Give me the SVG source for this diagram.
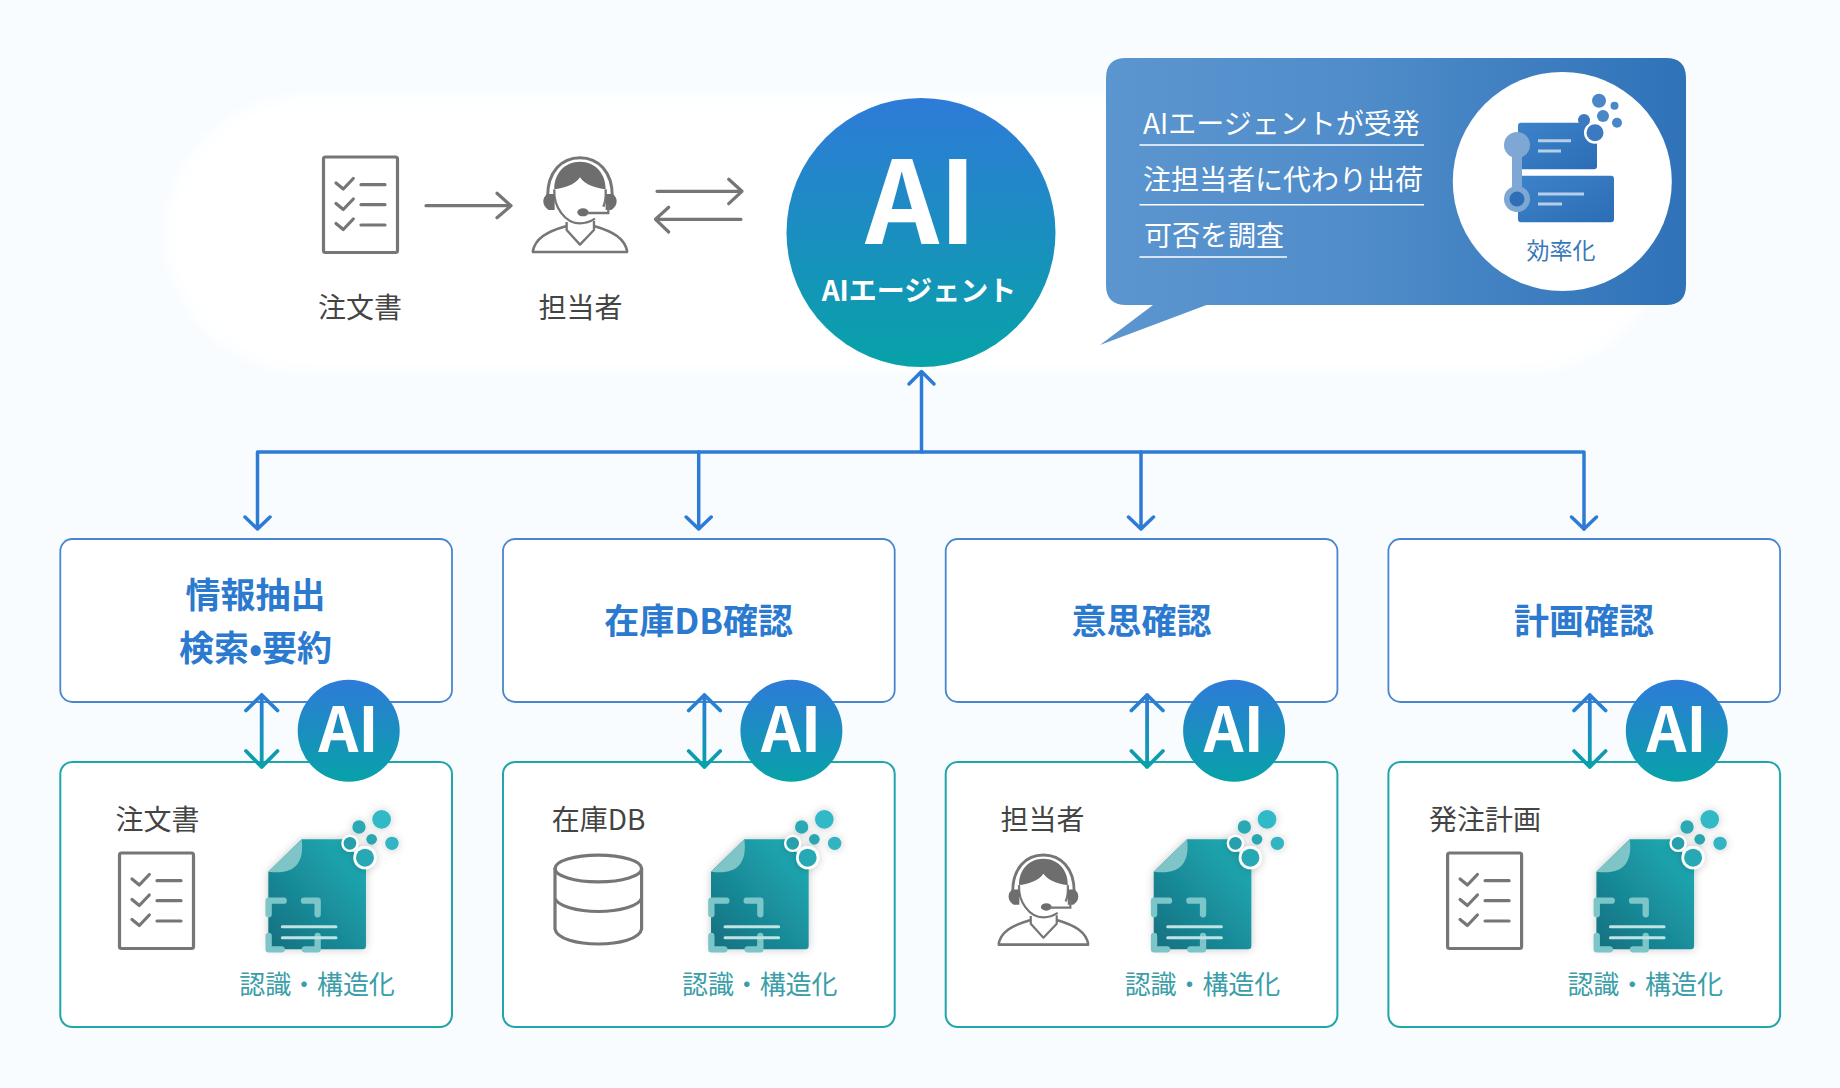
<svg xmlns="http://www.w3.org/2000/svg" width="1840" height="1088" viewBox="0 0 1840 1088">
<style>
text{font-family:"Noto Sans CJK JP","Noto Sans",sans-serif}
.box1{fill:#fff;stroke:#4a86cf;stroke-width:1.8}
.box2{fill:#fff;stroke:#1fa5ac;stroke-width:2}
.title{font-size:35px;font-weight:700;fill:#2b7ad0;text-anchor:middle}
.lbl{font-size:28px;fill:#444;text-anchor:middle}
.rec{font-size:26px;fill:#3b9ea8;text-anchor:middle;letter-spacing:-.1px}
.ai{font-size:62px;font-weight:700;fill:#fff;text-anchor:middle}
.gray{fill:none;stroke:#767676;stroke-width:3.2;stroke-linecap:round;stroke-linejoin:round}
.wire{fill:none;stroke:#2e7bd6;stroke-width:3.5;stroke-linecap:round;stroke-linejoin:round}
.dbl{fill:none;stroke-width:3.8;stroke-linecap:round;stroke-linejoin:round}
.bub{font-size:28px;fill:#fff}
.ul{stroke:#fff;stroke-width:1.6}
</style>
<defs>
<linearGradient id="aiGrad" x1="0" y1="0" x2="0" y2="1"><stop offset="0" stop-color="#2e7bd8"/><stop offset="1" stop-color="#07a2a8"/></linearGradient>
<linearGradient id="bubGrad" x1="0" y1="0" x2="1" y2="0"><stop offset="0" stop-color="#5c96d0"/><stop offset=".45" stop-color="#4f8cc9"/><stop offset="1" stop-color="#2f72b8"/></linearGradient>
<linearGradient id="cardGrad" x1="0" y1="0" x2="1" y2="1"><stop offset="0" stop-color="#3d83c9"/><stop offset="1" stop-color="#2c6db6"/></linearGradient>
<linearGradient id="docGrad" x1="0" y1="1" x2="1" y2="0"><stop offset="0" stop-color="#126f80"/><stop offset="1" stop-color="#22b0b8"/></linearGradient>
<linearGradient id="dblGrad" gradientUnits="userSpaceOnUse" x1="0" y1="694" x2="0" y2="768"><stop offset="0" stop-color="#2e7bd6"/><stop offset="1" stop-color="#07a2a8"/></linearGradient>
<filter id="soft" x="-25%" y="-25%" width="150%" height="150%"><feDropShadow dx="0" dy="1" stdDeviation="12" flood-color="#000" flood-opacity=".22"/></filter>
<filter id="fade" x="-5%" y="-15%" width="110%" height="130%"><feGaussianBlur stdDeviation="7"/></filter>
<g id="checklist" class="gray">
<rect x="323.500" y="157" width="74" height="95.500" rx="2"/>
<path d="M336 183l7.300 6 10-10.500M336 203.500l7.300 6 10-10.500M336 223.500l7.300 6 10-10.500"/>
<path d="M361 184.700h24M361 204.700h24M361 225h24"/>
</g>
<g id="person">
<path d="M803 318C803 245 845 203 900 203S997 245 997 318" fill="none" stroke="#767676" stroke-width="9"/>
<path d="M823 298C822 250 855 215 900 215S978 250 977 298C950 295 915 285 900 262C885 285 850 295 823 298Z" fill="#6e6e6e"/>
<path d="M823 298C820 350 855 400 900 400C915 400 930 396 945 386M977 298C978 315 977 335 970 350" fill="none" stroke="#767676" stroke-width="7"/>
<path d="M802 312H824V360H806Q790 350 790 334Q790 320 802 312Z" fill="#6e6e6e"/>
<path d="M998 312H977V360H994Q1010 350 1010 334Q1010 320 998 312Z" fill="#6e6e6e"/>
<ellipse cx="909" cy="367" rx="17" ry="12" fill="#6e6e6e"/>
<path d="M920 369H985V345" fill="none" stroke="#767676" stroke-width="7"/>
<path d="M860 396V420L900 464L942 420V393" fill="none" stroke="#767676" stroke-width="7" stroke-linejoin="round"/>
<path d="M758 486C765 445 800 425 860 408M942 408C1000 425 1035 445 1042 486M756 486H1044" fill="none" stroke="#767676" stroke-width="8"/>
</g>
<g id="docIcon">
<path d="M755 478H880V480L948 560V798Q948 808 938 808H665Q655 808 655 798V575Z" fill="url(#docGrad)" filter="url(#soft)"/>
<path d="M755 478L655 575C725 585 765 558 755 478Z" fill="#7fc5c8"/>
<path d="M656 703V662H701M762 662H803V703M656 768V808H695M765 808H803V768" fill="none" stroke="#7cc6c9" stroke-width="19" stroke-linecap="round" stroke-linejoin="round"/>
<path d="M697 740H858M697 773H858" stroke="#bfe3e3" stroke-width="9" stroke-linecap="round"/>
<g filter="url(#soft)">
<circle cx="900" cy="490" r="26" fill="#fff"/><circle cx="945" cy="533" r="35" fill="#fff"/>
<circle cx="995" cy="418" r="28" fill="#33b9c7"/><circle cx="927" cy="441" r="20" fill="#29a9b5"/>
<circle cx="965" cy="478" r="16" fill="#2aa6b2"/><circle cx="1026" cy="490" r="20" fill="#30b4c2"/>
<circle cx="900" cy="490" r="19" fill="#25a0ad"/><circle cx="945" cy="533" r="27" fill="#26a9b4"/>
</g>
</g>
<g id="dblArrow" class="dbl" stroke="url(#dblGrad)">
<path d="M261.700 695V767M246 710.500L261.700 695L277.500 710.500M246 751L261.700 767L277.500 751"/>
</g>
</defs>
<rect width="1840" height="1088" fill="#f8fcff"/>
<rect id="band" x="167" y="98" width="1496" height="272" rx="136" fill="#fff" filter="url(#fade)"/>

<g id="order-top">
<use href="#checklist"/>
<text class="lbl" x="360" y="318">注文書</text>
</g>
<g id="person-top">
<use href="#person" transform="translate(280 90) scale(.3333)"/>
<text class="lbl" x="580.500" y="318">担当者</text>
</g>

<g id="connectors">
<path class="gray" d="M426 205.700H511M497 193.300L511 205.700L497 217.700"/>
<path class="gray" d="M657 191.300H742M728.700 179.300L742 191.300L728.700 203.700"/>
<path class="gray" d="M741 219.300H655.500M668.700 207.300L655.500 219.300L668.700 232"/>
<path class="wire" d="M921.500 372V452M909 384L921.500 371.500L934 384"/>
<path class="wire" d="M257.500 529V452H1584V529M245 517L257.500 529L270 517"/>
<path class="wire" d="M698.700 452V529M686.200 517L698.700 529L711.200 517"/>
<path class="wire" d="M1141 452V529M1128.500 517L1141 529L1153.500 517"/>
<path class="wire" d="M1571.500 517L1584 529L1596.500 517"/>
</g>

<g id="agent">
<circle cx="921" cy="232.500" r="134.500" fill="url(#aiGrad)"/>
<text x="921" y="244" font-size="115" font-weight="700" fill="#fff" text-anchor="middle">AI</text>
<text x="919" y="301" font-size="28" font-weight="700" fill="#fff" text-anchor="middle">AIエージェント</text>
</g>

<g id="bubble">
<path d="M1126 58H1666Q1686 58 1686 78V285Q1686 305 1666 305H1206.500L1100 345L1153 305H1126Q1106 305 1106 285V78Q1106 58 1126 58Z" fill="url(#bubGrad)"/>
<text class="bub" x="1143" y="134">AIエージェントが受発</text>
<text class="bub" x="1143" y="190">注担当者に代わり出荷</text>
<text class="bub" x="1144" y="246">可否を調査</text>
<path class="ul" d="M1139.500 145H1424M1139.500 204.700H1424M1139.500 257H1287"/>
<circle cx="1562.300" cy="181.500" r="109.500" fill="#fff"/>
<rect x="1518" y="122.700" width="79" height="46.500" rx="3" fill="url(#cardGrad)"/>
<rect x="1518" y="175.700" width="96" height="46.500" rx="3" fill="url(#cardGrad)"/>
<path d="M1538 140.700h33M1538 151h23M1538 194h46M1538 204h24" stroke="#b5cfe9" stroke-width="3"/>
<rect x="1512" y="150" width="10" height="45" fill="#7ea7d4"/>
<circle cx="1517" cy="145" r="13" fill="#7ea7d4"/>
<circle cx="1517" cy="199" r="13" fill="#7ea7d4"/>
<circle cx="1517" cy="199" r="7.500" fill="#2f6fb7"/>
<circle cx="1595" cy="132.700" r="11" fill="#fff"/>
<circle cx="1599" cy="100.700" r="7" fill="#4a87c8"/><circle cx="1614.500" cy="105.700" r="4" fill="#4a87c8"/>
<circle cx="1603" cy="116" r="6" fill="#4a87c8"/><circle cx="1584" cy="120" r="6" fill="#3b7ac0"/>
<circle cx="1617" cy="122.700" r="5" fill="#4a87c8"/><circle cx="1595" cy="132.700" r="8.500" fill="#3b7ac0"/>
<text x="1561" y="259" font-size="23" fill="#3a78b8" text-anchor="middle">効率化</text>
</g>

<g id="col1">
<rect class="box1" x="60.300" y="539" width="391.700" height="163" rx="12"/>
<text class="title" x="255.500" y="608">情報抽出</text>
<text class="title" x="255.500" y="661">検索•要約</text>
<rect class="box2" x="60.300" y="762" width="391.700" height="265" rx="12"/>
<use href="#dblArrow"/>
<circle cx="348.700" cy="730.700" r="51" fill="url(#aiGrad)"/>
<text class="ai" x="348.500" y="752">AI</text>
<text class="lbl" x="157.500" y="830">注文書</text>
<use href="#checklist" transform="translate(-204 696)"/>
<use href="#docIcon" transform="translate(50 680) scale(.3333)"/>
<text class="rec" x="317" y="994">認識・構造化</text>
</g>

<g id="col2" transform="translate(442.700 0)">
<rect class="box1" x="60.300" y="539" width="391.700" height="163" rx="12"/>
<text class="title" x="256" y="634">在庫DB確認</text>
<rect class="box2" x="60.300" y="762" width="391.700" height="265" rx="12"/>
<use href="#dblArrow"/>
<circle cx="348.700" cy="730.700" r="51" fill="url(#aiGrad)"/>
<text class="ai" x="348.500" y="752">AI</text>
<text class="lbl" x="156" y="830">在庫DB</text>
<g class="gray"><ellipse cx="155.600" cy="868.500" rx="43.300" ry="13.400"/><path d="M112.300 868.500V929C114 939 135 944 155.600 944S197 939 198.900 929V868.500M112.300 898C114 906 135 911.500 155.600 911.500S197 906 198.900 898"/></g>
<use href="#docIcon" transform="translate(50 680) scale(.3333)"/>
<text class="rec" x="317" y="994">認識・構造化</text>
</g>

<g id="col3" transform="translate(885.400 0)">
<rect class="box1" x="60.300" y="539" width="391.700" height="163" rx="12"/>
<text class="title" x="256" y="634">意思確認</text>
<rect class="box2" x="60.300" y="762" width="391.700" height="265" rx="12"/>
<use href="#dblArrow"/>
<circle cx="348.700" cy="730.700" r="51" fill="url(#aiGrad)"/>
<text class="ai" x="348.500" y="752">AI</text>
<text class="lbl" x="157" y="830">担当者</text>
<use href="#person" transform="translate(-127 790.700) scale(.3167)"/>
<use href="#docIcon" transform="translate(50 680) scale(.3333)"/>
<text class="rec" x="317" y="994">認識・構造化</text>
</g>

<g id="col4" transform="translate(1328.100 0)">
<rect class="box1" x="60.300" y="539" width="391.700" height="163" rx="12"/>
<text class="title" x="256" y="634">計画確認</text>
<rect class="box2" x="60.300" y="762" width="391.700" height="265" rx="12"/>
<use href="#dblArrow"/>
<circle cx="348.700" cy="730.700" r="51" fill="url(#aiGrad)"/>
<text class="ai" x="348.500" y="752">AI</text>
<text class="lbl" x="157" y="830">発注計画</text>
<use href="#checklist" transform="translate(-204 696)"/>
<use href="#docIcon" transform="translate(50 680) scale(.3333)"/>
<text class="rec" x="317" y="994">認識・構造化</text>
</g>
</svg>
